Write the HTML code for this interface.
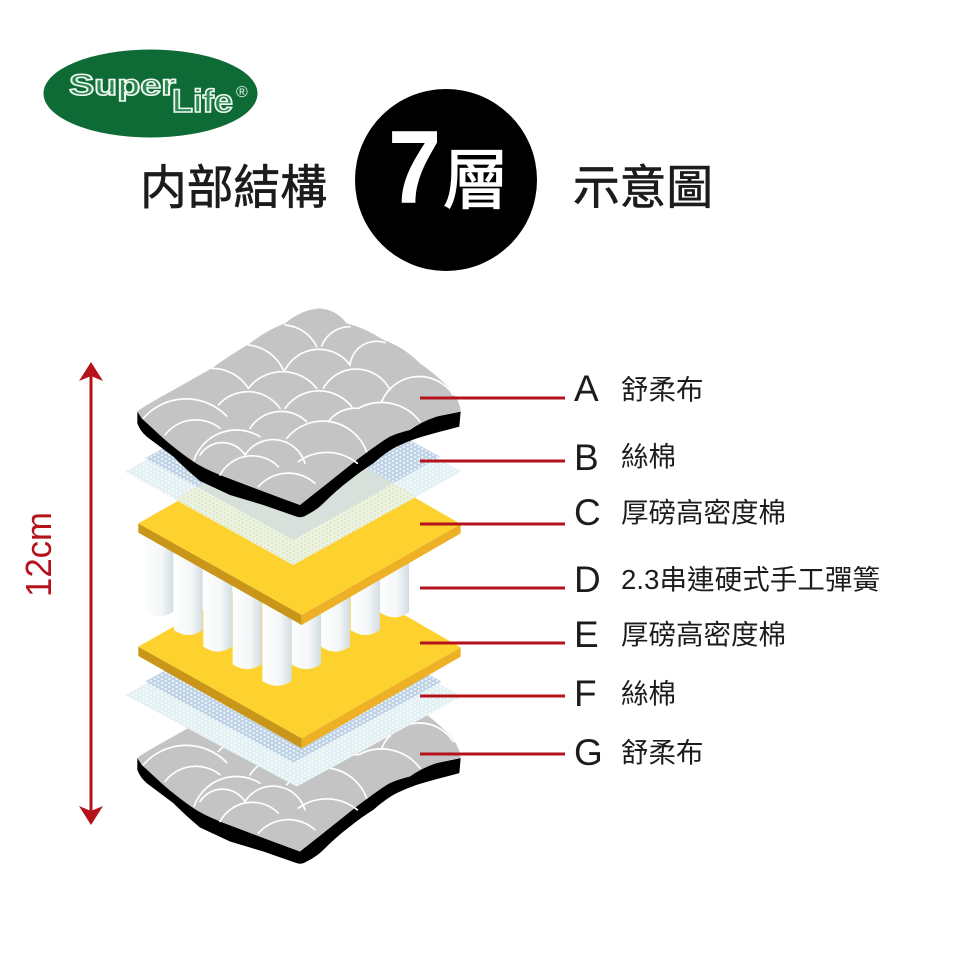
<!DOCTYPE html>
<html><head><meta charset="utf-8"><style>html,body{margin:0;padding:0;background:#fff}svg{display:block}
.c{font-family:"Liberation Sans","Noto Sans CJK TC",sans-serif;fill:#1c1c1c}
.l{font-size:37px}.t{font-size:27.5px}</style></head><body>
<svg xmlns="http://www.w3.org/2000/svg" width="960" height="960" viewBox="0 0 960 960">
<defs>
<pattern id="dl" patternUnits="userSpaceOnUse" width="22" height="12"><rect width="22" height="12" fill="#e3f1f5"/><circle cx="5" cy="3" r="2.6" fill="#fff"/><circle cx="16" cy="9" r="2.6" fill="#fff"/></pattern>
<pattern id="db" patternUnits="userSpaceOnUse" width="22" height="12"><rect width="22" height="12" fill="#bfd3e6"/><circle cx="5" cy="3" r="3.2" fill="#f1f6fa"/><circle cx="16" cy="9" r="3.2" fill="#f1f6fa"/></pattern>
<pattern id="dy" patternUnits="userSpaceOnUse" width="22" height="12"><rect width="22" height="12" fill="#e8f3ea"/><circle cx="5" cy="3" r="2.8" fill="#ecdf8f"/><circle cx="16" cy="9" r="2.8" fill="#ecdf8f"/></pattern>
<pattern id="dm" patternUnits="userSpaceOnUse" width="22" height="12"><rect width="22" height="12" fill="#d3e0e6"/><circle cx="5" cy="3" r="2.8" fill="#e8e2a6"/><circle cx="16" cy="9" r="2.8" fill="#e8e2a6"/></pattern>
<linearGradient id="sp" x1="0" x2="1" y1="0" y2="0"><stop offset="0" stop-color="#fdfefe"/><stop offset=".6" stop-color="#f4f7f8"/><stop offset="1" stop-color="#d2dde1"/></linearGradient>
<g id="pad">
<path fill="#000" d="M52,335 L52,370 Q60,392 80,410 L160,470 Q200,510 240,543 L330,585 L430,615 L530,650 Q545,655 560,645 Q590,630 610,610 Q650,570 690,540 Q720,515 760,490 Q800,455 830,440 Q860,425 890,415 Q940,400 980,390 L1018,380 L1022,335 L800,380 L540,615 L300,525 Z"/>
<path fill="#c4c4c4" d="M52,335 Q60,325 160,270 L275,205 Q330,165 390,130 Q440,90 495,70 Q545,28 600,25 Q650,30 680,70 Q740,85 790,120 Q850,140 900,190 Q950,225 985,262 Q1018,295 1022,335 Q985,340 950,350 Q905,365 870,390 Q830,400 810,410 Q790,420 710,480 Q660,520 610,560 L540,615 Q430,575 300,525 Q250,505 220,485 Q170,450 130,415 L65,355 Z"/>
<g fill="none" stroke="#fff" stroke-width="5" stroke-linecap="round">
<path d="M70,355A170,170 0 0 1 320,348"/>
<path d="M135,405A116,116 0 0 1 300,385"/>
<path d="M222,480A135,135 0 0 1 420,410"/>
<path d="M240,465A80,80 0 0 1 375,465"/>
<path d="M300,525A110,110 0 0 1 475,500"/>
<path d="M375,465A100,100 0 0 1 555,490"/>
<path d="M415,560A120,120 0 0 1 585,550"/>
<path d="M535,485A145,145 0 0 1 712,490"/>
<path d="M500,415A140,140 0 0 1 740,455"/>
<path d="M390,385A111,111 0 0 1 560,365"/>
<path d="M625,365A100,100 0 0 1 715,325A145,145 0 0 1 900,365"/>
<path d="M785,305A122,122 0 0 1 1000,285"/>
<path d="M495,325A125,125 0 0 1 695,320"/>
<path d="M295,315A118,118 0 0 1 480,325"/>
<path d="M385,265A130,130 0 0 1 590,265"/>
<path d="M610,265A113,113 0 0 1 810,270"/>
<path d="M495,210A115,115 0 0 1 690,195"/>
<path d="M690,195A80,80 0 0 1 795,128"/>
<path d="M605,138A90,90 0 0 1 690,80"/>
<path d="M495,75A115,115 0 0 1 590,140"/>
<path d="M385,135A130,130 0 0 1 490,210"/>
<path d="M275,205A130,130 0 0 1 385,265"/>
</g></g>
<g id="plate">
<path fill="#c9961a" d="M55,670 L55,698 L545,975 L545,945 Z"/>
<path fill="#eeb024" d="M545,945 L545,975 L1022,700 L1022,672 Z"/>
<path fill="#fdd22e" d="M55,670 L540,395 L1022,672 L545,945 Z"/>
</g>
<clipPath id="ycl"><path d="M165,600 L520,795 L890,590 L520,380 Z"/></clipPath>
</defs>

<ellipse cx="150.5" cy="93.5" rx="107" ry="44" fill="#0e6b35"/>
<g font-family="Liberation Sans,sans-serif" font-weight="bold" fill="#2a8a52" stroke="#f2f7f2" stroke-width="1.6">
<text x="69" y="95" font-size="30" textLength="107" lengthAdjust="spacingAndGlyphs">Super</text>
<text x="172" y="112" font-size="32" textLength="61" lengthAdjust="spacingAndGlyphs">Life</text>
</g>
<text x="236" y="97" font-family="Liberation Sans,sans-serif" font-size="16" fill="#e8f2ea">®</text>

<text class="c" x="140" y="204" font-size="47" textLength="187" lengthAdjust="spacingAndGlyphs" stroke="#1c1c1c" stroke-width=".7">内部結構</text>
<text class="c" x="573" y="204" font-size="47" textLength="140" lengthAdjust="spacingAndGlyphs" stroke="#1c1c1c" stroke-width=".7">示意圖</text>
<circle cx="446" cy="180" r="91" fill="#000"/>
<text transform="translate(388,203) scale(.92,1)" font-family="Liberation Sans,sans-serif" font-weight="bold" font-size="104" fill="#fff">7</text>
<text x="443" y="203" font-family="Liberation Sans,'Noto Sans CJK TC',sans-serif" font-size="66" fill="#fff" stroke="#fff" stroke-width="1.2">層</text>

<g stroke="#b5121b" stroke-width="3" fill="#b5121b">
<path d="M91,372V815" fill="none"/>
<path stroke="none" d="M91,362L79,381L91,376L103,381Z"/>
<path stroke="none" d="M91,825L79,806L91,811L103,806Z"/>
</g>
<text transform="translate(51,597) rotate(-90)" font-family="Liberation Sans,sans-serif" font-size="36" fill="#b5121b" textLength="85" lengthAdjust="spacingAndGlyphs">12cm</text>

<g transform="translate(120,300) scale(.33333)">
<!-- bottom pad G -->
<use href="#pad" y="1039.5"/>
<!-- sheet F -->
<path fill="url(#dl)" d="M15,1185 L530,1460 L1025,1190 L520,900 Z"/>
<path fill="url(#db)" d="M75,1145 L520,1388 L965,1145 L520,900 Z"/>
<!-- plate E -->
<use href="#plate" y="370"/>
<!-- springs -->
<g fill="url(#sp)">
<path d="M73,700H160V935Q116,965 73,935Z"/>
<path d="M162,720H248V990Q205,1020 162,990Z"/>
<path d="M250,750H337V1040Q293,1070 250,1040Z"/>
<path d="M338,780H425V1093Q381,1122 338,1093Z"/>
<path d="M780,700H867V937Q823,967 780,937Z"/>
<path d="M692,720H780V990Q736,1020 692,990Z"/>
<path d="M603,750H690V1040Q646,1070 603,1040Z"/>
<path d="M515,780H603V1093Q559,1122 515,1093Z"/>
<path d="M427,800H515V1143Q471,1172 427,1143Z"/>
</g>
<!-- plate C -->
<use href="#plate"/>
<!-- sheet B/C -->
<path fill="url(#dl)" d="M15,515 L520,795 L1025,515 L520,235 Z"/>
<path fill="url(#db)" d="M75,475 L520,720 L960,470 L520,230 Z"/>
<g clip-path="url(#ycl)">
<path fill="url(#dy)" d="M15,515 L520,795 L1025,515 L520,235 Z"/>
<path fill="url(#dm)" d="M75,475 L520,720 L960,470 L520,230 Z"/>
</g>
<!-- top pad -->
<use href="#pad"/>
</g>

<g stroke="#b5121b" stroke-width="3">
<path d="M420,398H565M420,461H565M420,524H565M420,588H565M420,643H565M420,696H565M420,754H565"/>
</g>

<g class="c">
<text class="c l" x="574" y="401">A</text><text class="c t" x="621" y="399">舒柔布</text>
<text class="c l" x="574" y="470">B</text><text class="c t" x="621" y="466">絲棉</text>
<text class="c l" x="574" y="525">C</text><text class="c t" x="621" y="522">厚磅高密度棉</text>
<text class="c l" x="574" y="592">D</text><text class="c t" x="621" y="589" textLength="259" lengthAdjust="spacing">2.3串連硬式手工彈簧</text>
<text class="c l" x="574" y="647">E</text><text class="c t" x="621" y="644">厚磅高密度棉</text>
<text class="c l" x="574" y="706">F</text><text class="c t" x="621" y="703">絲棉</text>
<text class="c l" x="574" y="765">G</text><text class="c t" x="621" y="762">舒柔布</text>
</g>
</svg>
</body></html>
